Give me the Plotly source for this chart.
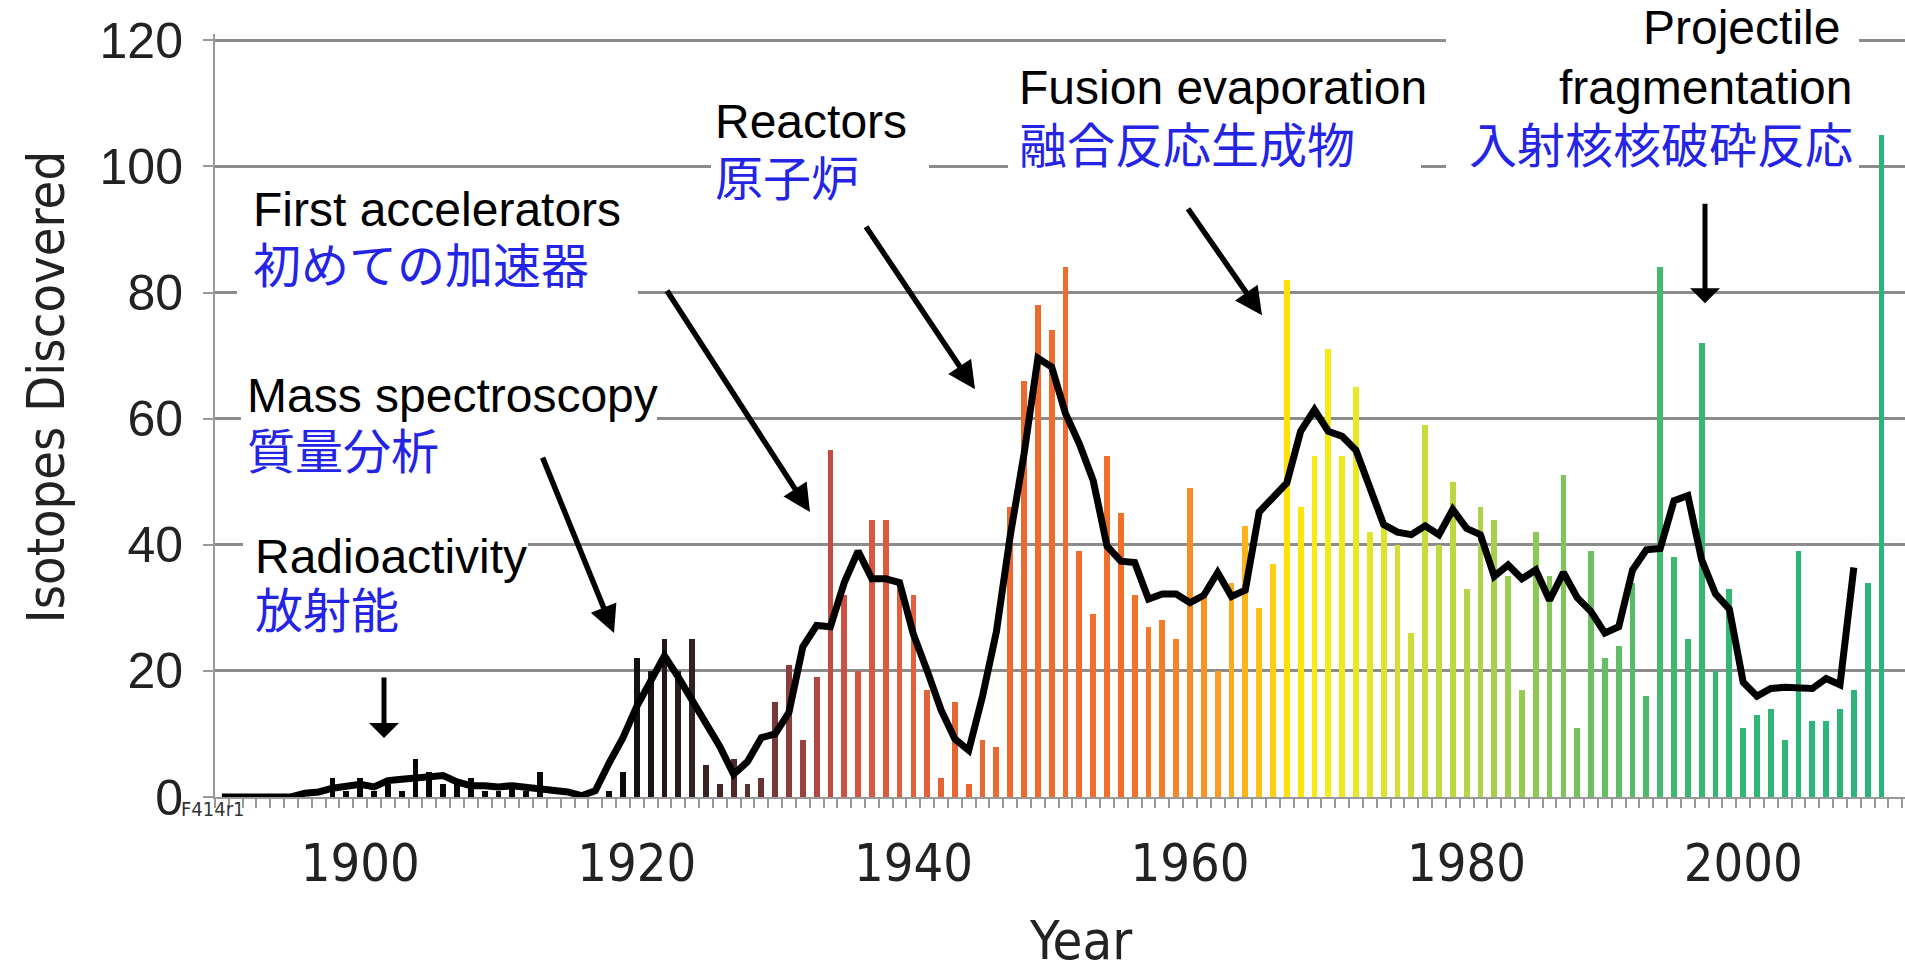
import plotly.graph_objects as go

# Isotopes discovered per year, 1890-2010
years = list(range(1890, 2011))
isotopes = [
    0, 0, 0, 0, 0, 0, 0, 0, 3, 1,          # 1890s
    3, 1, 2, 1, 6, 4, 2, 2, 3, 1,          # 1900s
    1, 2, 1, 4, 0, 0, 0, 0, 1, 4,          # 1910s
    22, 20, 25, 20, 25, 5, 2, 6, 2, 3,     # 1920s
    15, 21, 9, 19, 55, 32, 20, 44, 44, 33, # 1930s
    32, 17, 3, 15, 2, 9, 8, 46, 66, 78,    # 1940s
    74, 84, 39, 29, 54, 45, 32, 27, 28, 25,  # 1950s
    49, 32, 20, 34, 43, 30, 37, 82, 46, 54,  # 1960s
    71, 54, 65, 42, 43, 40, 26, 59, 40, 50,  # 1970s
    33, 46, 44, 35, 17, 42, 35, 51, 11, 39,  # 1980s
    22, 24, 34, 16, 84, 38, 25, 72, 20, 33,  # 1990s
    11, 13, 14, 9, 39, 12, 12, 14, 17, 34, 105,  # 2000-2010
]

# Five-year running average, 1890-2008
trend_years = list(range(1890, 2009))
trend_values = [
    0, 0, 0, 0, 0, 0, 0.6, 0.8, 1.4, 1.6,
    2.0, 1.6, 2.6, 2.8, 3.0, 3.0, 3.4, 2.4, 1.8, 1.8,
    1.6, 1.8, 1.6, 1.4, 1.0, 0.8, 0.2, 1.0, 5.4, 9.4,
    14.4, 18.2, 22.4, 19.0, 15.4, 11.6, 8.0, 3.6, 5.6, 9.4,
    10.0, 13.4, 23.8, 27.2, 27.0, 34.0, 39.0, 34.6, 34.6, 34.0,
    25.8, 20.0, 13.8, 9.2, 7.4, 16.0, 26.2, 41.4, 54.4, 69.6,
    68.2, 60.8, 56.0, 50.2, 39.8, 37.4, 37.2, 31.4, 32.2, 32.2,
    30.8, 32.0, 35.6, 31.8, 32.8, 45.2, 47.6, 49.8, 58.0, 61.4,
    58.0, 57.2, 55.0, 48.8, 43.2, 42.0, 41.6, 43.0, 41.6, 45.6,
    42.6, 41.6, 35.0, 36.8, 34.6, 36.0, 31.2, 35.6, 31.6, 29.4,
    26.0, 27.0, 36.0, 39.2, 39.4, 47.0, 47.8, 37.6, 32.2, 29.8,
    18.2, 16.0, 17.2, 17.4, 17.2, 17.2, 18.8, 17.8, 36.4,
]

year_ticks = [1900, 1920, 1940, 1960, 1980, 2000]
count_ticks = [0, 20, 40, 60, 80, 100, 120]

# era colour ramp (year, colour)
color_stops = [
    (1890, "#000000"), (1919, "#0a0a0a"), (1920, "#141010"), (1922, "#231717"),
    (1924, "#332020"), (1926, "#452626"), (1928, "#5c2e2e"), (1930, "#793838"),
    (1932, "#9a4242"), (1934, "#c04c44"), (1936, "#d65640"), (1940, "#e2603a"),
    (1946, "#ec692f"), (1955, "#f16e29"), (1958, "#f47e26"), (1960, "#f68c24"),
    (1962, "#f99e20"), (1964, "#fbb41a"), (1966, "#fdcf10"), (1967, "#ffe000"),
    (1969, "#f6ec12"), (1972, "#e8e824"), (1975, "#d6e032"), (1978, "#c2d93e"),
    (1981, "#aed24a"), (1985, "#8ec954"), (1988, "#74c25c"), (1992, "#55bc68"),
    (1995, "#3db870"), (2000, "#30b677"), (2010, "#2cb57a"),
]


def hex_to_rgb(h):
    h = h.lstrip("#")
    return tuple(int(h[i:i + 2], 16) for i in (0, 2, 4))


def era_color(y):
    for (y0, c0), (y1, c1) in zip(color_stops[:-1], color_stops[1:]):
        if y0 <= y <= y1:
            t = (y - y0) / (y1 - y0) if y1 > y0 else 0
            a, b = hex_to_rgb(c0), hex_to_rgb(c1)
            r, g, bl = (round(a[i] + (b[i] - a[i]) * t) for i in range(3))
            return f"rgb({r},{g},{bl})"
    return color_stops[-1][1]


bar_colors = [era_color(y) for y in years]

# ---- geometry of the plotting area (pixels) ----
W, H = 1905, 973
LEFT, BOTTOM_PX = 215, 797
X0, X1 = 1889.5, 2011.7
Y0, Y1 = 0, 121
PX_PER_UNIT = 6.308
TOP = BOTTOM_PX - (Y1 - Y0) * PX_PER_UNIT
PLOT_W = W - LEFT
PLOT_H = BOTTOM_PX - TOP
PX_PER_YEAR = PLOT_W / (X1 - X0)


def xd(px):
    return X0 + (px - LEFT) / PX_PER_YEAR


def yd(py):
    return (BOTTOM_PX - py) / PX_PER_UNIT


def xp(px):
    return (px - LEFT) / PLOT_W


def yp(py):
    return (BOTTOM_PX - py) / PLOT_H


GRID = "#8c8c8c"
BLUE = "#2424e6"
TEXT_FONT = "Liberation Sans, Arial, Noto Sans CJK JP, sans-serif"
NARROW_FONT = "Liberation Sans Narrow, Arial Narrow, DejaVu Sans Condensed, sans-serif"

fig = go.Figure()

fig.add_trace(go.Bar(
    x=years, y=isotopes, width=0.42,
    marker=dict(color=bar_colors, line=dict(width=0)),
    hoverinfo="x+y", showlegend=False,
))

fig.add_trace(go.Scatter(
    x=trend_years, y=trend_values, mode="lines",
    line=dict(color="black", width=7),
    hoverinfo="skip", showlegend=False,
))

shapes = []


def text_box(x0, x1, y0, y1):
    # white panel hiding the grid behind a label
    shapes.append(dict(
        type="rect", xref="paper", yref="paper", layer="above",
        x0=xp(x0), x1=xp(x1), y0=yp(y1), y1=yp(y0),
        fillcolor="white", line=dict(width=0),
    ))


def text_line(px, py, text, color="black", xanchor="left", size=48):
    fig.add_annotation(
        x=xp(px), y=yp(py), xref="paper", yref="paper",
        text=text, showarrow=False, xanchor=xanchor, yanchor="middle",
        font=dict(family=TEXT_FONT, size=size, color=color),
    )


def pointer(tail, tip, head=2, width=5.5, size=1.0):
    fig.add_annotation(
        x=xd(tip[0]), y=yd(tip[1]), xref="x", yref="y",
        ax=xd(tail[0]), ay=yd(tail[1]), axref="x", ayref="y",
        text="", showarrow=True, arrowhead=head, arrowwidth=width,
        arrowsize=size, arrowcolor="black", standoff=0, startstandoff=0,
    )


# Radioactivity
text_box(243, 528, 527, 640)
text_line(253, 556, "Radioactivity")
text_line(253, 611, "放射能", BLUE)
# Mass spectroscopy
text_box(241, 657, 366, 482)
text_line(245, 395, "Mass spectroscopy")
text_line(245, 452, "質量分析", BLUE)
# First accelerators
text_box(237, 638, 180, 296)
text_line(251, 209, "First accelerators")
text_line(251, 266, "初めての加速器", BLUE)
# Reactors
text_box(711, 929, 92, 210)
text_line(713, 121, "Reactors")
text_line(713, 179, "原子炉", BLUE)
# Fusion evaporation
text_box(1008, 1421, 58, 176)
text_line(1017, 87, "Fusion evaporation")
text_line(1017, 146, "融合反応生成物", BLUE)
# Projectile fragmentation
text_box(1446, 1859, 0, 176)
text_line(1842, 27, "Projectile", xanchor="right")
text_line(1855, 87, "fragmentation", xanchor="right")
text_line(1855, 146, "入射核核破砕反応", BLUE, xanchor="right")

pointer((384, 676), (384, 738), head=1, width=5)
pointer((542, 456), (614, 633))
pointer((666, 289), (810, 512))
pointer((865, 225), (975, 389))
pointer((1187, 207), (1262, 315))
pointer((1705, 202), (1705, 303), head=1, width=5)

# axis titles and figure tag
fig.add_annotation(
    x=xp(1080), y=yp(941), xref="paper", yref="paper", text="Year",
    showarrow=False, xanchor="center", yanchor="middle",
    font=dict(family=NARROW_FONT, size=54, color="#222"),
)
fig.add_annotation(
    x=xp(46), y=yp(387), xref="paper", yref="paper", text="Isotopes Discovered",
    textangle=-90, showarrow=False, xanchor="center", yanchor="middle",
    font=dict(family=NARROW_FONT, size=52, color="#222"),
)
fig.add_annotation(
    x=xp(179), y=yp(809), xref="paper", yref="paper", text="F414r1",
    showarrow=False, xanchor="left", yanchor="middle",
    font=dict(family=NARROW_FONT, size=20, color="#333"),
)

fig.update_layout(
    width=W, height=H, autosize=False,
    margin=dict(l=LEFT, r=0, t=TOP, b=H - BOTTOM_PX, pad=0),
    paper_bgcolor="white", plot_bgcolor="white",
    bargap=0, showlegend=False, shapes=shapes,
    xaxis=dict(
        range=[X0, X1], tickmode="array",
        tickvals=year_ticks, ticktext=[str(v) for v in year_ticks], ticks="",
        tickfont=dict(family=NARROW_FONT, size=52, color="#222"),
        ticklabelstandoff=20,
        showline=True, linecolor="#999", linewidth=2,
        showgrid=False, zeroline=False,
        minor=dict(ticks="outside", ticklen=9, tickwidth=2, tickcolor="#999",
                   tick0=1889.5, dtick=1, showgrid=False),
    ),
    yaxis=dict(
        range=[Y0, Y1], tickmode="array", tickvals=count_ticks,
        ticks="outside", ticklen=10, tickwidth=2, tickcolor="#999",
        tickfont=dict(family=TEXT_FONT, size=50, color="#222"),
        ticklabelstandoff=10,
        showline=True, linecolor="#999", linewidth=2,
        showgrid=True, gridcolor=GRID, gridwidth=2.5, zeroline=False,
    ),
)

fig.write_html("out.html")
